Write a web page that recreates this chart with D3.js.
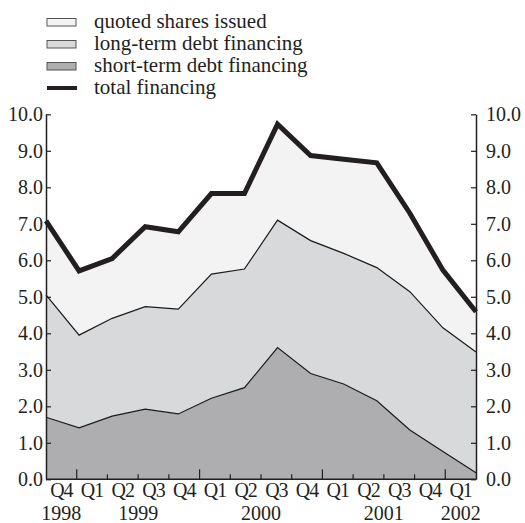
<!DOCTYPE html>
<html>
<head>
<meta charset="utf-8">
<script src="https://cdn.jsdelivr.net/npm/d3@7"></script>
<style>
  body { margin: 0; background: #fff; }
  text { font-family: "Liberation Serif", "Times New Roman", serif; fill: #231f20; }
</style>
</head>
<body>
<div id="chart"></div>
<script>
// quarters from Q4 1998 to Q1 2002
var quarters = ["Q4", "Q1", "Q2", "Q3", "Q4", "Q1", "Q2", "Q3", "Q4", "Q1", "Q2", "Q3", "Q4", "Q1"];
var years    = ["1998", "1999", "1999", "1999", "1999", "2000", "2000", "2000", "2000", "2001", "2001", "2001", "2001", "2002"];

// series values
var shortTerm = [1.70, 1.41, 1.73, 1.92, 1.79, 2.22, 2.51, 3.61, 2.90, 2.61, 2.15, 1.35, 0.76, 0.18];
var longTerm  = [3.35, 2.54, 2.68, 2.81, 2.87, 3.40, 3.25, 3.49, 3.64, 3.58, 3.65, 3.79, 3.39, 3.31];
var quoted    = [2.03, 1.76, 1.64, 2.19, 2.12, 2.21, 2.07, 2.63, 2.33, 2.58, 2.87, 2.15, 1.58, 1.10];

var yTicks = [0, 1, 2, 3, 4, 5, 6, 7, 8, 9, 10];

var legendItems = [
  {label: "quoted shares issued",        key: "quoted"},
  {label: "long-term debt financing",    key: "long"},
  {label: "short-term debt financing",   key: "short"},
  {label: "total financing",             key: "total"}
];

var colors = {quoted: "#f3f3f4", long: "#d8d9db", short: "#aeaeb0", total: "#231f20"};

var W = 525, H = 523;
var mLeft = 46, mRight = 476, mTop = 114.3, mBottom = 479.3;
var FS = "20px";

var svg = d3.select("#chart").append("svg")
    .attr("width", W)
    .attr("height", H);

// table for the stack
var ids = d3.range(quarters.length);
var rows = ids.map(function(i) {
  return {i: i, short: shortTerm[i], long: longTerm[i], quoted: quoted[i]};
});

var stack = d3.stack().keys(["short", "long", "quoted"]);
var layers = stack(rows);

var x = d3.scalePoint().domain(ids).range([mLeft, mRight]);
var xBand = d3.scaleBand().domain(ids).range([mLeft, mRight]);
var y = d3.scaleLinear().domain([0, 10]).range([mBottom, mTop]);

var area = d3.area()
    .x(function(d) { return x(d.data.i); })
    .y0(function(d) { return y(d[0]); })
    .y1(function(d) { return y(d[1]); });

var topLine = d3.line()
    .x(function(d) { return x(d.data.i); })
    .y(function(d) { return y(d[1]); });

// areas
svg.selectAll("path.layer")
  .data(layers)
  .enter().append("path")
    .attr("class", "layer")
    .attr("d", area)
    .style("fill", function(d) { return colors[d.key]; });

// thin outlines of short and long layers
svg.selectAll("path.edge")
  .data(layers.slice(0, 2))
  .enter().append("path")
    .attr("class", "edge")
    .attr("d", topLine)
    .style("fill", "none")
    .style("stroke", "#1a1a1a")
    .style("stroke-width", 1.2);

// total financing line = top of stack
svg.append("path")
    .datum(layers[2])
    .attr("d", topLine)
    .style("fill", "none")
    .style("stroke", colors.total)
    .style("stroke-width", 5)
    .style("stroke-linejoin", "miter");

// y axes
var fmt = d3.format(".1f");
var gl = svg.append("g")
    .attr("transform", "translate(" + mLeft + ",0)")
    .call(d3.axisLeft(y).tickValues(yTicks).tickFormat(fmt).tickSizeInner(-5).tickSizeOuter(0).tickPadding(3));
var gr = svg.append("g")
    .attr("transform", "translate(" + mRight + ",0)")
    .call(d3.axisRight(y).tickValues(yTicks).tickFormat(fmt).tickSizeInner(-5).tickSizeOuter(0).tickPadding(10));

[gl, gr].forEach(function(g) {
  g.attr("font-family", null).attr("font-size", null);
  g.select(".domain").style("stroke", "#231f20").style("stroke-width", 1.5);
  g.selectAll(".tick line").style("stroke", "#231f20").style("stroke-width", 1.2);
  g.selectAll(".tick text")
    .style("font-size", FS)
    .style("fill", "#231f20");
});

// x axis line
svg.append("line")
    .attr("x1", mLeft).attr("x2", mRight)
    .attr("y1", mBottom).attr("y2", mBottom)
    .style("stroke", "#231f20")
    .style("stroke-width", 1.5);

// boundary ticks between quarters, longer at year changes
svg.selectAll("line.xtick")
  .data(ids.slice(1))
  .enter().append("line")
    .attr("class", "xtick")
    .attr("x1", function(i) { return xBand(i); })
    .attr("x2", function(i) { return xBand(i); })
    .attr("y1", mBottom)
    .attr("y2", function(i) { return years[i] !== years[i - 1] ? mBottom - 10 : mBottom - 5; })
    .style("stroke", "#231f20")
    .style("stroke-width", 1.2);

// quarter labels
svg.selectAll("text.q")
  .data(ids)
  .enter().append("text")
    .attr("class", "q")
    .attr("x", function(i) { return xBand(i) + xBand.bandwidth() / 2; })
    .attr("y", 497)
    .attr("text-anchor", "middle")
    .style("font-size", FS)
    .style("letter-spacing", "-1px")
    .text(function(i) { return quarters[i]; });

// year labels, centred on their quarters
var yearNames = Array.from(new Set(years));
svg.selectAll("text.yr")
  .data(yearNames)
  .enter().append("text")
    .attr("class", "yr")
    .attr("x", function(yr) {
      var idx = ids.filter(function(i) { return years[i] === yr; });
      return d3.mean(idx, function(i) { return xBand(i) + xBand.bandwidth() / 2; });
    })
    .attr("y", 520)
    .attr("text-anchor", "middle")
    .style("font-size", FS)
    .text(function(d) { return d; });

// legend
var leg = svg.append("g").attr("transform", "translate(47,0)");
var item = leg.selectAll("g")
  .data(legendItems)
  .enter().append("g")
    .attr("transform", function(d, i) { return "translate(0," + (22 + i * 22) + ")"; });

item.filter(function(d) { return d.key !== "total"; })
  .append("rect")
    .attr("x", 0).attr("y", -3.5)
    .attr("width", 29).attr("height", 7.5)
    .style("fill", function(d) { return colors[d.key]; })
    .style("stroke", "#555")
    .style("stroke-width", 1);

item.filter(function(d) { return d.key === "total"; })
  .append("line")
    .attr("x1", 0).attr("x2", 30)
    .attr("y1", 0).attr("y2", 0)
    .style("stroke", colors.total)
    .style("stroke-width", 4);

item.append("text")
    .attr("x", 47)
    .attr("y", 5.5)
    .style("font-size", "21px")
    .text(function(d) { return d.label; });
</script>
</body>
</html>
